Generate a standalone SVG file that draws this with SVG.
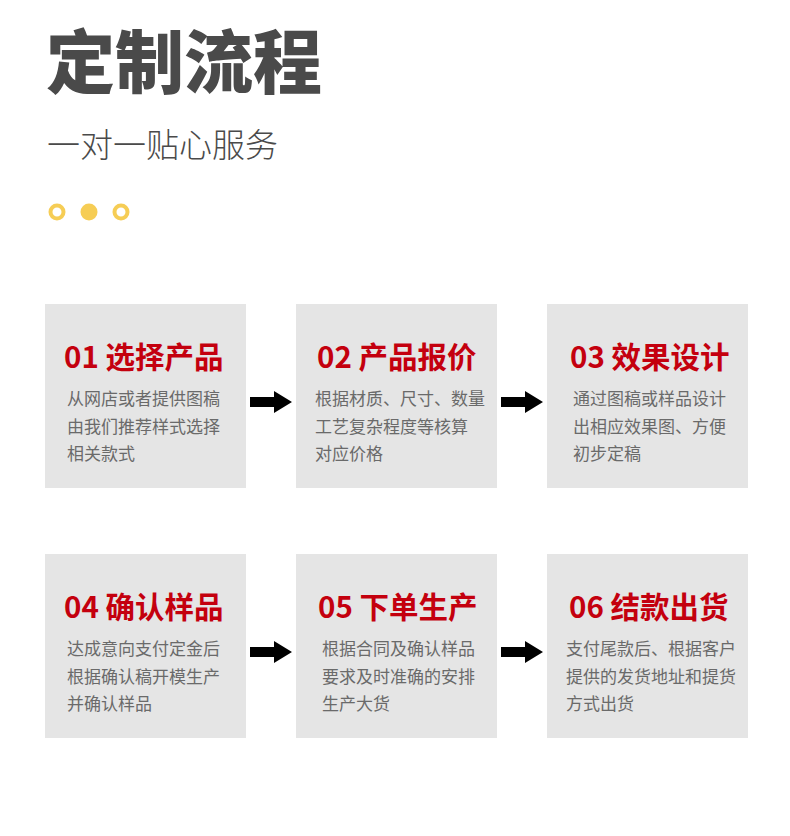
<svg xmlns="http://www.w3.org/2000/svg" width="790" height="836" viewBox="0 0 790 836">
<style>
.t{font-family:"Noto Sans CJK SC","Noto Sans",sans-serif;}
.title{font-size:69px;font-weight:900;fill:#4a4a4a;}
.sub{font-size:33px;font-weight:300;fill:#4a4a4a;}
.box{fill:#e5e5e5;}
.h{font-size:29.5px;font-weight:700;fill:#c4000e;}
.b{font-size:17px;fill:#6a6a6a;}
.ring{fill:#ffffff;stroke:#f6cd55;stroke-width:4;}
.dot{fill:#f6cd55;}
.arr{fill:#000000;}
</style>
<rect width="790" height="836" fill="#ffffff"/>
<g id="header">
<text class="t title" x="46" y="88">定制流程</text>
<text class="t sub" x="47" y="157">一对一贴心服务</text>
<circle class="ring" cx="57" cy="212" r="6.5"/>
<circle class="dot" cx="89" cy="212" r="8.5"/>
<circle class="ring" cx="121" cy="212" r="6.5"/>
</g>
<g id="step01">
<rect class="box" x="45" y="304" width="201" height="184"/>
<text class="t h" x="64" y="368">01 选择产品</text>
<text class="t b" x="67" y="405">从网店或者提供图稿</text>
<text class="t b" x="67" y="433">由我们推荐样式选择</text>
<text class="t b" x="67" y="460">相关款式</text>
</g>
<g id="step02">
<rect class="box" x="296" y="304" width="201" height="184"/>
<text class="t h" x="317" y="368">02 产品报价</text>
<text class="t b" x="315" y="405">根据材质、尺寸、数量</text>
<text class="t b" x="315" y="433">工艺复杂程度等核算</text>
<text class="t b" x="315" y="460">对应价格</text>
</g>
<g id="step03">
<rect class="box" x="547" y="304" width="201" height="184"/>
<text class="t h" x="570" y="368">03 效果设计</text>
<text class="t b" x="573" y="405">通过图稿或样品设计</text>
<text class="t b" x="573" y="433">出相应效果图、方便</text>
<text class="t b" x="573" y="460">初步定稿</text>
</g>
<g id="step04">
<rect class="box" x="45" y="554" width="201" height="184"/>
<text class="t h" x="64" y="618">04 确认样品</text>
<text class="t b" x="67" y="655">达成意向支付定金后</text>
<text class="t b" x="67" y="683">根据确认稿开模生产</text>
<text class="t b" x="67" y="710">并确认样品</text>
</g>
<g id="step05">
<rect class="box" x="296" y="554" width="201" height="184"/>
<text class="t h" x="318" y="618">05 下单生产</text>
<text class="t b" x="322" y="655">根据合同及确认样品</text>
<text class="t b" x="322" y="683">要求及时准确的安排</text>
<text class="t b" x="322" y="710">生产大货</text>
</g>
<g id="step06">
<rect class="box" x="547" y="554" width="201" height="184"/>
<text class="t h" x="569" y="618">06 结款出货</text>
<text class="t b" x="566" y="655">支付尾款后、根据客户</text>
<text class="t b" x="566" y="683">提供的发货地址和提货</text>
<text class="t b" x="566" y="710">方式出货</text>
</g>
<g id="connectors">
<polygon class="arr" points="250,397 274,397 274,391 292,402 274,413 274,407 250,407"/>
<polygon class="arr" points="501,397 525,397 525,391 543,402 525,413 525,407 501,407"/>
<polygon class="arr" points="250,647 274,647 274,641 292,652 274,663 274,657 250,657"/>
<polygon class="arr" points="501,647 525,647 525,641 543,652 525,663 525,657 501,657"/>
</g>
</svg>
